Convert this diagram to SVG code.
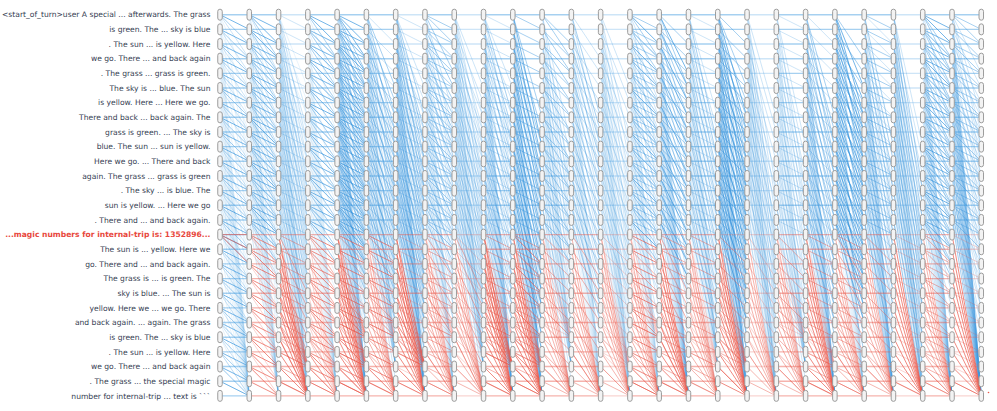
<svg xmlns="http://www.w3.org/2000/svg" xmlns:xlink="http://www.w3.org/1999/xlink" width="997" height="411" viewBox="0 0 997 411">
<style>
.t{font-family:"DejaVu Sans","Liberation Sans",sans-serif;font-size:7.6px;fill:#354052;text-anchor:end}
.tr{font-weight:bold;fill:#e8473c}
.p{fill:none;vector-effect:non-scaling-stroke}
.e{stroke-width:1;fill:none}
.b{stroke:#3a96de}
.r{stroke:#e9574a}
.o1{stroke-opacity:.12}
.o2{stroke-opacity:.25}
.o3{stroke-opacity:.45}
.o4{stroke-opacity:.7}
.h{stroke-width:1.4}
.nd{fill:#f3f3f3;stroke:#9c9c9c;stroke-width:1}
</style>
<defs>
<path id="U0" class="p" d="M0 0H1M0 1H1M0 2H1M0 3H1M0 4H1M0 5H1M0 6H1M0 7H1M0 8H1M0 9H1M0 10H1M0 11H1M0 12H1M0 13H1M0 14H1"/>
<path id="L0" class="p" d="M0 15H1M0 16H1M0 17H1M0 18H1M0 19H1M0 20H1M0 21H1M0 22H1M0 23H1M0 24H1M0 25H1M0 26H1"/>
<path id="U1" class="p" d="M0 0L1 1M0 1L1 2M0 2L1 3M0 3L1 4M0 4L1 5M0 5L1 6M0 6L1 7M0 7L1 8M0 8L1 9M0 9L1 10M0 10L1 11M0 11L1 12M0 12L1 13M0 13L1 14M0 14L1 15"/>
<path id="U2" class="p" d="M0 0L1 2M0 1L1 3M0 2L1 4M0 3L1 5M0 4L1 6M0 5L1 7M0 6L1 8M0 7L1 9M0 8L1 10M0 9L1 11M0 10L1 12M0 11L1 13M0 12L1 14M0 13L1 15M0 14L1 16"/>
<path id="U3" class="p" d="M0 0L1 3M0 1L1 4M0 2L1 5M0 3L1 6M0 4L1 7M0 5L1 8M0 6L1 9M0 7L1 10M0 8L1 11M0 9L1 12M0 10L1 13M0 11L1 14M0 12L1 15M0 13L1 16M0 14L1 17"/>
<path id="U4" class="p" d="M0 0L1 4M0 1L1 5M0 2L1 6M0 3L1 7M0 4L1 8M0 5L1 9M0 6L1 10M0 7L1 11M0 8L1 12M0 9L1 13M0 10L1 14M0 11L1 15M0 12L1 16M0 13L1 17M0 14L1 18"/>
<path id="U5" class="p" d="M0 0L1 5M0 1L1 6M0 2L1 7M0 3L1 8M0 4L1 9M0 5L1 10M0 6L1 11M0 7L1 12M0 8L1 13M0 9L1 14M0 10L1 15M0 11L1 16M0 12L1 17M0 13L1 18M0 14L1 19"/>
<path id="U7" class="p" d="M0 0L1 7M0 1L1 8M0 2L1 9M0 3L1 10M0 4L1 11M0 5L1 12M0 6L1 13M0 7L1 14M0 8L1 15M0 9L1 16M0 10L1 17M0 11L1 18M0 12L1 19M0 13L1 20M0 14L1 21"/>
<path id="U9" class="p" d="M0 0L1 9M0 1L1 10M0 2L1 11M0 3L1 12M0 4L1 13M0 5L1 14M0 6L1 15M0 7L1 16M0 8L1 17M0 9L1 18M0 10L1 19M0 11L1 20M0 12L1 21M0 13L1 22M0 14L1 23"/>
<path id="U12" class="p" d="M0 0L1 12M0 1L1 13M0 2L1 14M0 3L1 15M0 4L1 16M0 5L1 17M0 6L1 18M0 7L1 19M0 8L1 20M0 9L1 21M0 10L1 22M0 11L1 23M0 12L1 24M0 13L1 25M0 14L1 26"/>
<path id="U16" class="p" d="M0 0L1 16M0 1L1 17M0 2L1 18M0 3L1 19M0 4L1 20M0 5L1 21M0 6L1 22M0 7L1 23M0 8L1 24M0 9L1 25M0 10L1 26"/>
<path id="L1" class="p" d="M0 15L1 16M0 16L1 17M0 17L1 18M0 18L1 19M0 19L1 20M0 20L1 21M0 21L1 22M0 22L1 23M0 23L1 24M0 24L1 25M0 25L1 26"/>
<path id="L2" class="p" d="M0 15L1 17M0 16L1 18M0 17L1 19M0 18L1 20M0 19L1 21M0 20L1 22M0 21L1 23M0 22L1 24M0 23L1 25M0 24L1 26"/>
<path id="L3" class="p" d="M0 15L1 18M0 16L1 19M0 17L1 20M0 18L1 21M0 19L1 22M0 20L1 23M0 21L1 24M0 22L1 25M0 23L1 26"/>
<path id="L4" class="p" d="M0 15L1 19M0 16L1 20M0 17L1 21M0 18L1 22M0 19L1 23M0 20L1 24M0 21L1 25M0 22L1 26"/>
<path id="CU26" class="p" d="M0 0L1 26M0 1L1 26M0 2L1 26M0 3L1 26M0 4L1 26M0 5L1 26M0 6L1 26M0 7L1 26M0 8L1 26M0 9L1 26M0 10L1 26M0 11L1 26M0 12L1 26M0 13L1 26M0 14L1 26"/>
<path id="CU24" class="p" d="M0 0L1 24M0 1L1 24M0 2L1 24M0 3L1 24M0 4L1 24M0 5L1 24M0 6L1 24M0 7L1 24M0 8L1 24M0 9L1 24M0 10L1 24M0 11L1 24M0 12L1 24M0 13L1 24M0 14L1 24"/>
<path id="CL26" class="p" d="M0 15L1 26M0 16L1 26M0 17L1 26M0 18L1 26M0 19L1 26M0 20L1 26M0 21L1 26M0 22L1 26M0 23L1 26M0 24L1 26M0 25L1 26"/>
<path id="CL24" class="p" d="M0 15L1 24M0 16L1 24M0 17L1 24M0 18L1 24M0 19L1 24M0 20L1 24M0 21L1 24M0 22L1 24M0 23L1 24"/>
<path id="CL22" class="p" d="M0 15L1 22M0 16L1 22M0 17L1 22M0 18L1 22M0 19L1 22M0 20L1 22M0 21L1 22"/>
<g id="col">
<rect class="nd" x="-2.25" y="-5.5" width="4.5" height="11" rx="2.2"/>
<rect class="nd" x="-2.25" y="9.16" width="4.5" height="11" rx="2.2"/>
<rect class="nd" x="-2.25" y="23.82" width="4.5" height="11" rx="2.2"/>
<rect class="nd" x="-2.25" y="38.48" width="4.5" height="11" rx="2.2"/>
<rect class="nd" x="-2.25" y="53.14" width="4.5" height="11" rx="2.2"/>
<rect class="nd" x="-2.25" y="67.8" width="4.5" height="11" rx="2.2"/>
<rect class="nd" x="-2.25" y="82.46" width="4.5" height="11" rx="2.2"/>
<rect class="nd" x="-2.25" y="97.12" width="4.5" height="11" rx="2.2"/>
<rect class="nd" x="-2.25" y="111.78" width="4.5" height="11" rx="2.2"/>
<rect class="nd" x="-2.25" y="126.44" width="4.5" height="11" rx="2.2"/>
<rect class="nd" x="-2.25" y="141.1" width="4.5" height="11" rx="2.2"/>
<rect class="nd" x="-2.25" y="155.76" width="4.5" height="11" rx="2.2"/>
<rect class="nd" x="-2.25" y="170.42" width="4.5" height="11" rx="2.2"/>
<rect class="nd" x="-2.25" y="185.08" width="4.5" height="11" rx="2.2"/>
<rect class="nd" x="-2.25" y="199.74" width="4.5" height="11" rx="2.2"/>
<rect class="nd" x="-2.25" y="214.4" width="4.5" height="11" rx="2.2"/>
<rect class="nd" x="-2.25" y="229.06" width="4.5" height="11" rx="2.2"/>
<rect class="nd" x="-2.25" y="243.72" width="4.5" height="11" rx="2.2"/>
<rect class="nd" x="-2.25" y="258.38" width="4.5" height="11" rx="2.2"/>
<rect class="nd" x="-2.25" y="273.04" width="4.5" height="11" rx="2.2"/>
<rect class="nd" x="-2.25" y="287.7" width="4.5" height="11" rx="2.2"/>
<rect class="nd" x="-2.25" y="302.36" width="4.5" height="11" rx="2.2"/>
<rect class="nd" x="-2.25" y="317.02" width="4.5" height="11" rx="2.2"/>
<rect class="nd" x="-2.25" y="331.68" width="4.5" height="11" rx="2.2"/>
<rect class="nd" x="-2.25" y="346.34" width="4.5" height="11" rx="2.2"/>
<rect class="nd" x="-2.25" y="361" width="4.5" height="11" rx="2.2"/>
<rect class="nd" x="-2.25" y="375.66" width="4.5" height="11" rx="2.2"/>
</g>
</defs>
<rect width="997" height="411" fill="#fff"/>
<g id="labels">
<text class="t" x="210.5" y="17.4">&lt;start_of_turn&gt;user A special ... afterwards. The grass</text>
<text class="t" x="210.5" y="32.06">is green. The ... sky is blue</text>
<text class="t" x="210.5" y="46.72">. The sun ... is yellow. Here</text>
<text class="t" x="210.5" y="61.38">we go. There ... and back again</text>
<text class="t" x="210.5" y="76.04">. The grass ... grass is green.</text>
<text class="t" x="210.5" y="90.7">The sky is ... blue. The sun</text>
<text class="t" x="210.5" y="105.36">is yellow. Here ... Here we go.</text>
<text class="t" x="210.5" y="120.02">There and back ... back again. The</text>
<text class="t" x="210.5" y="134.68">grass is green. ... The sky is</text>
<text class="t" x="210.5" y="149.34">blue. The sun ... sun is yellow.</text>
<text class="t" x="210.5" y="164">Here we go. ... There and back</text>
<text class="t" x="210.5" y="178.66">again. The grass ... grass is green</text>
<text class="t" x="210.5" y="193.32">. The sky ... is blue. The</text>
<text class="t" x="210.5" y="207.98">sun is yellow. ... Here we go</text>
<text class="t" x="210.5" y="222.64">. There and ... and back again.</text>
<text class="t tr" x="210.5" y="237.3">...magic numbers for internal-trip is: 1352896...</text>
<text class="t" x="210.5" y="251.96">The sun is ... yellow. Here we</text>
<text class="t" x="210.5" y="266.62">go. There and ... and back again.</text>
<text class="t" x="210.5" y="281.28">The grass is ... is green. The</text>
<text class="t" x="210.5" y="295.94">sky is blue. ... The sun is</text>
<text class="t" x="210.5" y="310.6">yellow. Here we ... we go. There</text>
<text class="t" x="210.5" y="325.26">and back again. ... again. The grass</text>
<text class="t" x="210.5" y="339.92">is green. The ... sky is blue</text>
<text class="t" x="210.5" y="354.58">. The sun ... is yellow. Here</text>
<text class="t" x="210.5" y="369.24">we go. There ... and back again</text>
<text class="t" x="210.5" y="383.9">. The grass ... the special magic</text>
<text class="t" x="210.5" y="398.56">number for internal-trip ... text is ```</text>
</g>
<g id="connectors" class="e" transform="translate(220 14.7) scale(29.28 14.66)">
<g id="gap0"><use href="#U0" x="0" class="b o3 h"/><use href="#U1" x="0" class="b o4"/><use href="#U2" x="0" class="b o3"/><use href="#U3" x="0" class="b o2"/><use href="#U5" x="0" class="b o1"/><use href="#U9" x="0" class="b o1"/><use href="#CU26" x="0" class="b o1"/><use href="#L0" x="0" class="b o3 h"/><use href="#L1" x="0" class="b o4"/><use href="#L2" x="0" class="b o3"/><use href="#L3" x="0" class="b o2"/><use href="#CL26" x="0" class="b o1"/><path class="p r o4" d="M0 15H1M0 15L1 16M0 15L1 17"/></g>
<g id="gap1"><use href="#U0" x="1" class="b o3 h"/><use href="#U1" x="1" class="b o4"/><use href="#U2" x="1" class="b o4"/><use href="#U3" x="1" class="b o3"/><use href="#U4" x="1" class="b o2"/><use href="#U7" x="1" class="b o1"/><use href="#U12" x="1" class="b o1"/><use href="#CU26" x="1" class="b o1"/><use href="#L0" x="1" class="r o3 h"/><use href="#L1" x="1" class="r o4"/><use href="#L2" x="1" class="r o4"/><use href="#L3" x="1" class="r o2"/></g>
<g id="gap2"><use href="#U0" x="2" class="b o2 h"/><use href="#U1" x="2" class="b o2"/><use href="#U5" x="2" class="b o1"/><use href="#U7" x="2" class="b o2"/><use href="#U9" x="2" class="b o2"/><use href="#U12" x="2" class="b o2"/><use href="#U16" x="2" class="b o1"/><use href="#CU26" x="2" class="b o1"/><use href="#L0" x="2" class="r o3 h"/><use href="#L1" x="2" class="r o3"/><use href="#L4" x="2" class="r o3"/><use href="#CL26" x="2" class="r o4"/><use href="#CL24" x="2" class="r o3"/></g>
<g id="gap3"><use href="#U0" x="3" class="b o3 h"/><use href="#U1" x="3" class="b o4"/><use href="#U2" x="3" class="b o4"/><use href="#U3" x="3" class="b o3"/><use href="#U5" x="3" class="b o1"/><use href="#CU26" x="3" class="b o1"/><use href="#L0" x="3" class="r o3 h"/><use href="#L1" x="3" class="r o4"/><use href="#L2" x="3" class="r o4"/><use href="#L3" x="3" class="r o3"/><use href="#CL26" x="3" class="r o2"/></g>
<g id="gap4"><use href="#U0" x="4" class="b o3 h"/><use href="#U1" x="4" class="b o4"/><use href="#U2" x="4" class="b o4"/><use href="#U3" x="4" class="b o4"/><use href="#U4" x="4" class="b o3"/><use href="#U5" x="4" class="b o3"/><use href="#U7" x="4" class="b o2"/><use href="#U9" x="4" class="b o2"/><use href="#U12" x="4" class="b o1"/><use href="#CU26" x="4" class="b o2"/><use href="#L0" x="4" class="r o3 h"/><use href="#L1" x="4" class="r o4"/><use href="#L2" x="4" class="r o3"/><use href="#CL26" x="4" class="r o4"/><use href="#CL24" x="4" class="r o3"/><use href="#CL22" x="4" class="r o3"/></g>
<g id="gap5"><use href="#U0" x="5" class="b o3 h"/><use href="#U2" x="5" class="b o2"/><use href="#U5" x="5" class="b o3"/><use href="#U7" x="5" class="b o3"/><use href="#U9" x="5" class="b o2"/><use href="#U12" x="5" class="b o2"/><use href="#CU24" x="5" class="b o1"/><use href="#L0" x="5" class="r o3 h"/><use href="#L1" x="5" class="r o4"/><use href="#L2" x="5" class="r o3"/><use href="#CL26" x="5" class="r o3"/><use href="#CL22" x="5" class="r o2"/></g>
<g id="gap6"><use href="#U0" x="6" class="b o2 h"/><use href="#U1" x="6" class="b o2"/><use href="#U5" x="6" class="b o2"/><use href="#U7" x="6" class="b o3"/><use href="#U9" x="6" class="b o3"/><use href="#U12" x="6" class="b o2"/><use href="#U16" x="6" class="b o1"/><use href="#CU26" x="6" class="b o2"/><use href="#L0" x="6" class="r o3 h"/><use href="#L1" x="6" class="r o2"/><use href="#CL26" x="6" class="r o4"/><use href="#CL24" x="6" class="r o4"/></g>
<g id="gap7"><use href="#U0" x="7" class="b o3 h"/><use href="#U1" x="7" class="b o3"/><use href="#U2" x="7" class="b o3"/><use href="#U4" x="7" class="b o3"/><use href="#U7" x="7" class="b o2"/><use href="#U9" x="7" class="b o2"/><use href="#CU26" x="7" class="b o1"/><use href="#L0" x="7" class="r o3 h"/><use href="#L1" x="7" class="r o3"/><use href="#L3" x="7" class="r o3"/><use href="#CL26" x="7" class="r o3"/><use href="#CL22" x="7" class="r o2"/></g>
<g id="gap8"><use href="#U0" x="8" class="b o2 h"/><use href="#U5" x="8" class="b o2"/><use href="#U7" x="8" class="b o2"/><use href="#U9" x="8" class="b o2"/><use href="#U12" x="8" class="b o2"/><use href="#U16" x="8" class="b o1"/><use href="#CU24" x="8" class="b o1"/><use href="#L0" x="8" class="r o2 h"/><use href="#L2" x="8" class="r o2"/><use href="#L4" x="8" class="r o3"/><use href="#CL26" x="8" class="r o3"/></g>
<g id="gap9"><use href="#U0" x="9" class="b o3 h"/><use href="#U1" x="9" class="b o2"/><use href="#U5" x="9" class="b o2"/><use href="#U7" x="9" class="b o3"/><use href="#U9" x="9" class="b o2"/><use href="#CU26" x="9" class="b o2"/><use href="#L0" x="9" class="r o3 h"/><use href="#L1" x="9" class="r o3"/><use href="#CL26" x="9" class="r o4"/><use href="#CL24" x="9" class="r o4"/><use href="#CL22" x="9" class="r o2"/></g>
<g id="gap10"><use href="#U0" x="10" class="b o3 h"/><use href="#U1" x="10" class="b o3"/><use href="#U7" x="10" class="b o3"/><use href="#U9" x="10" class="b o4"/><use href="#U12" x="10" class="b o2"/><use href="#CU26" x="10" class="b o2"/><use href="#L0" x="10" class="r o3 h"/><use href="#L1" x="10" class="r o3"/><use href="#L2" x="10" class="r o4"/><use href="#CL26" x="10" class="r o4"/><use href="#CL24" x="10" class="r o3"/></g>
<g id="gap11"><use href="#U0" x="11" class="b o3 h"/><use href="#U2" x="11" class="b o3"/><use href="#U3" x="11" class="b o3"/><use href="#U9" x="11" class="b o2"/><use href="#U12" x="11" class="b o2"/><use href="#CU24" x="11" class="b o1"/><use href="#L0" x="11" class="r o3 h"/><use href="#L2" x="11" class="r o3"/><use href="#CL26" x="11" class="r o3"/><use href="#CL22" x="11" class="r o2"/></g>
<g id="gap12"><use href="#U0" x="12" class="b o2 h"/><use href="#U3" x="12" class="b o2"/><use href="#U7" x="12" class="b o3"/><use href="#U9" x="12" class="b o2"/><use href="#CU26" x="12" class="b o1"/><use href="#L0" x="12" class="r o3 h"/><use href="#L3" x="12" class="r o3"/><use href="#CL26" x="12" class="r o3"/></g>
<g id="gap13"><use href="#U0" x="13" class="b o2 h"/><use href="#U5" x="13" class="b o2"/><use href="#U9" x="13" class="b o2"/><use href="#U12" x="13" class="b o1"/><use href="#U16" x="13" class="b o1"/><use href="#CU26" x="13" class="b o1"/><use href="#L0" x="13" class="r o2 h"/><use href="#CL26" x="13" class="r o3"/><use href="#CL24" x="13" class="r o2"/><use href="#L2" x="13" class="r o2"/></g>
<g id="gap14"><use href="#U0" x="14" class="b o3 h"/><use href="#U1" x="14" class="b o3"/><use href="#U2" x="14" class="b o4"/><use href="#U3" x="14" class="b o3"/><use href="#U5" x="14" class="b o2"/><use href="#U9" x="14" class="b o2"/><use href="#CU26" x="14" class="b o1"/><use href="#L0" x="14" class="r o3 h"/><use href="#L1" x="14" class="r o4"/><use href="#L2" x="14" class="r o3"/><use href="#CL26" x="14" class="r o3"/><use href="#CL22" x="14" class="r o2"/></g>
<g id="gap15"><use href="#U0" x="15" class="b o3 h"/><use href="#U2" x="15" class="b o3"/><use href="#U4" x="15" class="b o4"/><use href="#U5" x="15" class="b o3"/><use href="#U9" x="15" class="b o2"/><use href="#CU26" x="15" class="b o2"/><use href="#L0" x="15" class="r o3 h"/><use href="#L1" x="15" class="r o3"/><use href="#L4" x="15" class="r o3"/><use href="#CL26" x="15" class="r o4"/></g>
<g id="gap16"><use href="#U0" x="16" class="b o3 h"/><use href="#U1" x="16" class="b o2"/><use href="#U7" x="16" class="b o2"/><use href="#U9" x="16" class="b o3"/><use href="#U12" x="16" class="b o1"/><use href="#CU24" x="16" class="b o1"/><use href="#L0" x="16" class="r o3 h"/><use href="#L1" x="16" class="r o3"/><use href="#CL26" x="16" class="r o3"/><use href="#CL24" x="16" class="r o2"/></g>
<g id="gap17"><use href="#U0" x="17" class="b o3 h"/><use href="#U2" x="17" class="b o3"/><use href="#U5" x="17" class="b o3"/><use href="#U7" x="17" class="b o4"/><use href="#U9" x="17" class="b o3"/><use href="#U12" x="17" class="b o3"/><use href="#CU26" x="17" class="b o2"/><use href="#L0" x="17" class="r o2 h"/><use href="#L2" x="17" class="r o3"/><use href="#CL26" x="17" class="r o4"/><use href="#CL24" x="17" class="r o3"/></g>
<g id="gap18"><use href="#U0" x="18" class="b o2 h"/><use href="#U7" x="18" class="b o2"/><use href="#U12" x="18" class="b o2"/><use href="#U16" x="18" class="b o2"/><use href="#CU26" x="18" class="b o1"/><use href="#L0" x="18" class="r o2 h"/><use href="#CL26" x="18" class="r o3"/><use href="#L3" x="18" class="r o2"/></g>
<g id="gap19"><use href="#U0" x="19" class="b o3 h"/><use href="#U1" x="19" class="b o2"/><use href="#U9" x="19" class="b o2"/><use href="#U12" x="19" class="b o2"/><use href="#CU24" x="19" class="b o1"/><use href="#L0" x="19" class="r o3 h"/><use href="#L2" x="19" class="r o3"/><use href="#CL26" x="19" class="r o3"/><use href="#CL22" x="19" class="r o2"/></g>
<g id="gap20"><use href="#U0" x="20" class="b o3 h"/><use href="#U2" x="20" class="b o2"/><use href="#U7" x="20" class="b o3"/><use href="#U9" x="20" class="b o3"/><use href="#CU26" x="20" class="b o2"/><use href="#L0" x="20" class="r o3 h"/><use href="#L1" x="20" class="r o3"/><use href="#CL26" x="20" class="r o4"/><use href="#CL24" x="20" class="r o2"/></g>
<g id="gap21"><use href="#U0" x="21" class="b o3 h"/><use href="#U3" x="21" class="b o3"/><use href="#U5" x="21" class="b o4"/><use href="#U7" x="21" class="b o4"/><use href="#U9" x="21" class="b o3"/><use href="#CU26" x="21" class="b o1"/><use href="#L0" x="21" class="r o3 h"/><use href="#L1" x="21" class="r o3"/><use href="#L3" x="21" class="r o3"/><use href="#CL26" x="21" class="r o3"/></g>
<g id="gap22"><use href="#U0" x="22" class="b o3 h"/><use href="#U1" x="22" class="b o3"/><use href="#U2" x="22" class="b o2"/><use href="#U9" x="22" class="b o3"/><use href="#U12" x="22" class="b o2"/><use href="#CU26" x="22" class="b o2"/><use href="#L0" x="22" class="r o3 h"/><use href="#L2" x="22" class="r o3"/><use href="#CL26" x="22" class="r o3"/></g>
<g id="gap23"><use href="#U0" x="23" class="b o2 h"/><use href="#U9" x="23" class="b o2"/><use href="#U12" x="23" class="b o3"/><use href="#U16" x="23" class="b o2"/><use href="#CU26" x="23" class="b o1"/><use href="#L0" x="23" class="r o2 h"/><use href="#CL26" x="23" class="r o4"/><use href="#L1" x="23" class="r o2"/></g>
<g id="gap24"><use href="#U0" x="24" class="b o3 h"/><use href="#U1" x="24" class="b o4"/><use href="#U2" x="24" class="b o4"/><use href="#U3" x="24" class="b o3"/><use href="#U4" x="24" class="b o3"/><use href="#U7" x="24" class="b o2"/><use href="#CU26" x="24" class="b o2"/><use href="#L0" x="24" class="r o3 h"/><use href="#L1" x="24" class="r o3"/><use href="#L2" x="24" class="r o3"/><use href="#CL26" x="24" class="r o3"/></g>
<g id="gap25"><use href="#U0" x="25" class="b o3 h"/><use href="#U1" x="25" class="b o3"/><use href="#U2" x="25" class="b o3"/><use href="#U4" x="25" class="b o2"/><use href="#U7" x="25" class="b o2"/><use href="#U9" x="25" class="b o2"/><use href="#CU26" x="25" class="b o3"/><use href="#L0" x="25" class="r o2 h"/><use href="#L1" x="25" class="r o2"/><use href="#CL26" x="25" class="r o4"/></g>
</g>
<g id="nodes">
<g id="layer0"><use href="#col" x="220" y="14.7"/></g>
<g id="layer1"><use href="#col" x="249.28" y="14.7"/></g>
<g id="layer2"><use href="#col" x="278.56" y="14.7"/></g>
<g id="layer3"><use href="#col" x="307.84" y="14.7"/></g>
<g id="layer4"><use href="#col" x="337.12" y="14.7"/></g>
<g id="layer5"><use href="#col" x="366.4" y="14.7"/></g>
<g id="layer6"><use href="#col" x="395.68" y="14.7"/></g>
<g id="layer7"><use href="#col" x="424.96" y="14.7"/></g>
<g id="layer8"><use href="#col" x="454.24" y="14.7"/></g>
<g id="layer9"><use href="#col" x="483.52" y="14.7"/></g>
<g id="layer10"><use href="#col" x="512.8" y="14.7"/></g>
<g id="layer11"><use href="#col" x="542.08" y="14.7"/></g>
<g id="layer12"><use href="#col" x="571.36" y="14.7"/></g>
<g id="layer13"><use href="#col" x="600.64" y="14.7"/></g>
<g id="layer14"><use href="#col" x="629.92" y="14.7"/></g>
<g id="layer15"><use href="#col" x="659.2" y="14.7"/></g>
<g id="layer16"><use href="#col" x="688.48" y="14.7"/></g>
<g id="layer17"><use href="#col" x="717.76" y="14.7"/></g>
<g id="layer18"><use href="#col" x="747.04" y="14.7"/></g>
<g id="layer19"><use href="#col" x="776.32" y="14.7"/></g>
<g id="layer20"><use href="#col" x="805.6" y="14.7"/></g>
<g id="layer21"><use href="#col" x="834.88" y="14.7"/></g>
<g id="layer22"><use href="#col" x="864.16" y="14.7"/></g>
<g id="layer23"><use href="#col" x="893.44" y="14.7"/></g>
<g id="layer24"><use href="#col" x="922.72" y="14.7"/></g>
<g id="layer25"><use href="#col" x="952" y="14.7"/></g>
<g id="layer26"><use href="#col" x="981.28" y="14.7"/></g>
</g>
<circle cx="988.5" cy="392.5" r="0.8" fill="#e9574a"/>
</svg>
